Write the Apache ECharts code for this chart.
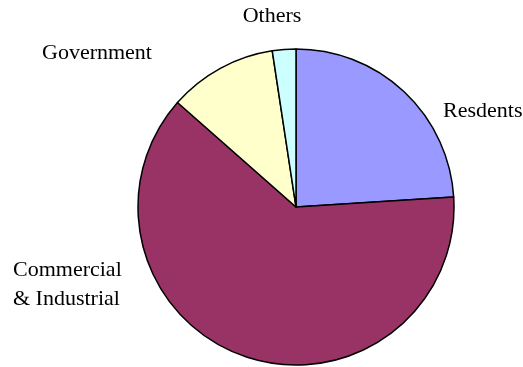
<!DOCTYPE html>
<html>
<head>
<meta charset="utf-8">
<script src="https://cdn.jsdelivr.net/npm/echarts@6/dist/echarts.min.js"></script>
<style>
  html, body { margin: 0; padding: 0; background: #fff; }
  #chart { width: 523px; height: 367px; }
</style>
</head>
<body>
<div id="chart"></div>
<script>
// Share of consumption by sector (percent)
const categories = ['Resdents', 'Commercial\n& Industrial', 'Government', 'Others'];
const shares = [24.0, 62.5, 11.1, 2.4];
const sliceColors = ['#9999FF', '#993366', '#FFFFCC', '#CCFFFF'];

// Where each sector name sits on the page (label anchor, text alignment)
const labelSpots = [
  { x: 443, y: 111, align: 'left' },
  { x: 13, y: 285, align: 'left' },
  { x: 97, y: 53, align: 'center' },
  { x: 272, y: 16, align: 'center' }
];

const chart = echarts.init(document.getElementById('chart'), null, { renderer: 'canvas' });

chart.setOption({
  backgroundColor: '#ffffff',
  animation: false,
  series: [{
    type: 'pie',
    center: [296, 207],
    radius: [0, 158],
    startAngle: 90,
    clockwise: true,
    avoidLabelOverlap: false,
    itemStyle: { borderColor: '#000000', borderWidth: 1.5 },
    label: {
      show: true,
      position: 'outside',
      color: '#000000',
      fontFamily: 'Liberation Serif',
      fontSize: 22,
      lineHeight: 29,
      formatter: '{b}'
    },
    labelLine: { show: false },
    labelLayout: function (p) {
      const s = labelSpots[p.dataIndex];
      return { x: s.x, y: s.y, align: s.align, verticalAlign: 'middle' };
    },
    data: categories.map((name, i) => ({
      name: name,
      value: shares[i],
      itemStyle: { color: sliceColors[i] }
    }))
  }]
});
</script>
</body>
</html>
